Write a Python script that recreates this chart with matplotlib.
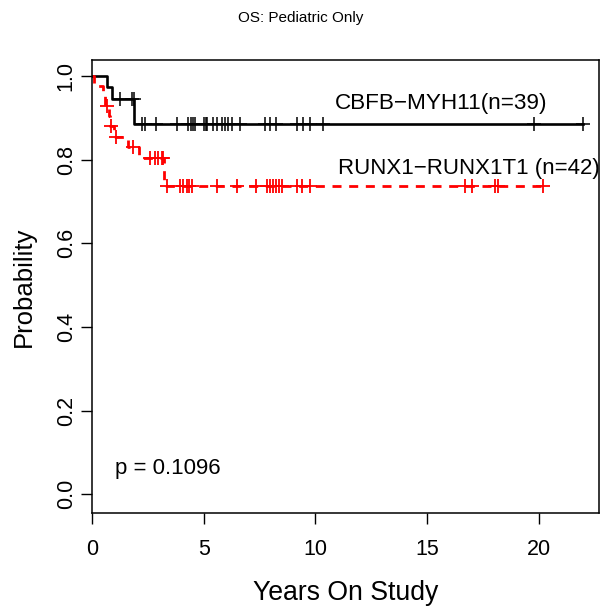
import numpy as np
import matplotlib
matplotlib.use('Agg')
import matplotlib.pyplot as plt

plt.rcParams['font.family'] = ['Liberation Sans', 'DejaVu Sans']
plt.rcParams['lines.scale_dashes'] = False

# %% Kaplan-Meier steps (years, survival probability)
cbfb_times = [0.0, 0.66, 0.91, 1.89, 22.0]
cbfb_surv = [1.0, 0.973, 0.945, 0.885, 0.885]
cbfb_censor = [1.25, 1.78, 1.86, 2.25, 2.37, 2.85, 3.79, 4.31, 4.42, 4.53, 4.61,
               5.02, 5.09, 5.16, 5.43, 5.61, 5.80, 5.95, 6.10, 6.29, 6.62, 7.74,
               7.96, 8.26, 9.16, 9.45, 9.75, 10.35, 19.78, 21.98]

runx_times = [0.0, 0.10, 0.50, 0.60, 0.75, 0.80, 1.00, 1.63, 2.12, 3.22, 20.19]
runx_surv = [1.0, 0.976, 0.952, 0.929, 0.905, 0.880, 0.855, 0.830, 0.803, 0.737, 0.737]
runx_censor = [0.66, 0.85, 1.06, 1.84, 2.60, 2.82, 2.97, 3.12, 3.19, 3.34, 3.94,
               4.08, 4.24, 4.35, 4.46, 5.61, 6.50, 7.34, 7.84, 7.96, 8.11, 8.26,
               8.38, 8.49, 9.16, 9.38, 9.75, 16.69, 17.00, 18.03, 18.17, 20.19]

labels = ['CBFB\u2212MYH11(n=39)', 'RUNX1\u2212RUNX1T1 (n=42)']
p_text = 'p = 0.1096'


def surv_at(t, times, surv):
    idx = np.searchsorted(times, t, side='right') - 1
    return np.asarray(surv)[idx]


# %% Plot
fig = plt.figure(figsize=(6.01, 6.09), dpi=100)
ax = fig.add_axes([92 / 601, 1 - 513 / 609, 507 / 601, 453 / 609])

ax.step(cbfb_times, cbfb_surv, where='post', color='black', lw=1.9)
ax.plot(cbfb_censor, surv_at(cbfb_censor, cbfb_times, cbfb_surv), ls='none',
        marker='+', ms=10, mew=1.1, color='black')

ax.step(runx_times, runx_surv, where='post', color='red', lw=2.0,
        dashes=(6.5, 5.5))
ax.plot(runx_censor, surv_at(runx_censor, runx_times, runx_surv), ls='none',
        marker='+', ms=10, mew=1.3, color='red')

ax.set_xlim(0, 22.7)
ax.set_ylim(-0.045, 1.038)
ax.set_xticks([0, 5, 10, 15, 20])
ax.set_yticks([0.0, 0.2, 0.4, 0.6, 0.8, 1.0])
ax.set_yticklabels(['0.0', '0.2', '0.4', '0.6', '0.8', '1.0'])
ax.tick_params(direction='out', length=8, width=1, labelsize=15.5)
ax.tick_params(axis='x', pad=11)
ax.tick_params(axis='y', pad=3, labelrotation=90)
for lab in ax.get_yticklabels():
    lab.set_va('center')
for s in ax.spines.values():
    s.set_linewidth(1.1)

ax.text(10.87, 0.933, labels[0], fontsize=16.2, va='center', ha='left')
ax.text(11.0, 0.778, labels[1], fontsize=16.0, va='center', ha='left')
ax.text(1.03, 0.062, p_text, fontsize=16.0, va='center', ha='left')

ax.set_xlabel('Years On Study', fontsize=19.2, labelpad=14)
ax.set_ylabel('Probability', fontsize=18.5, labelpad=14)
fig.text(0.5, 1 - 18 / 609, 'OS: Pediatric Only', fontsize=11, ha='center', va='center')

fig.savefig('out.png', dpi=100)
